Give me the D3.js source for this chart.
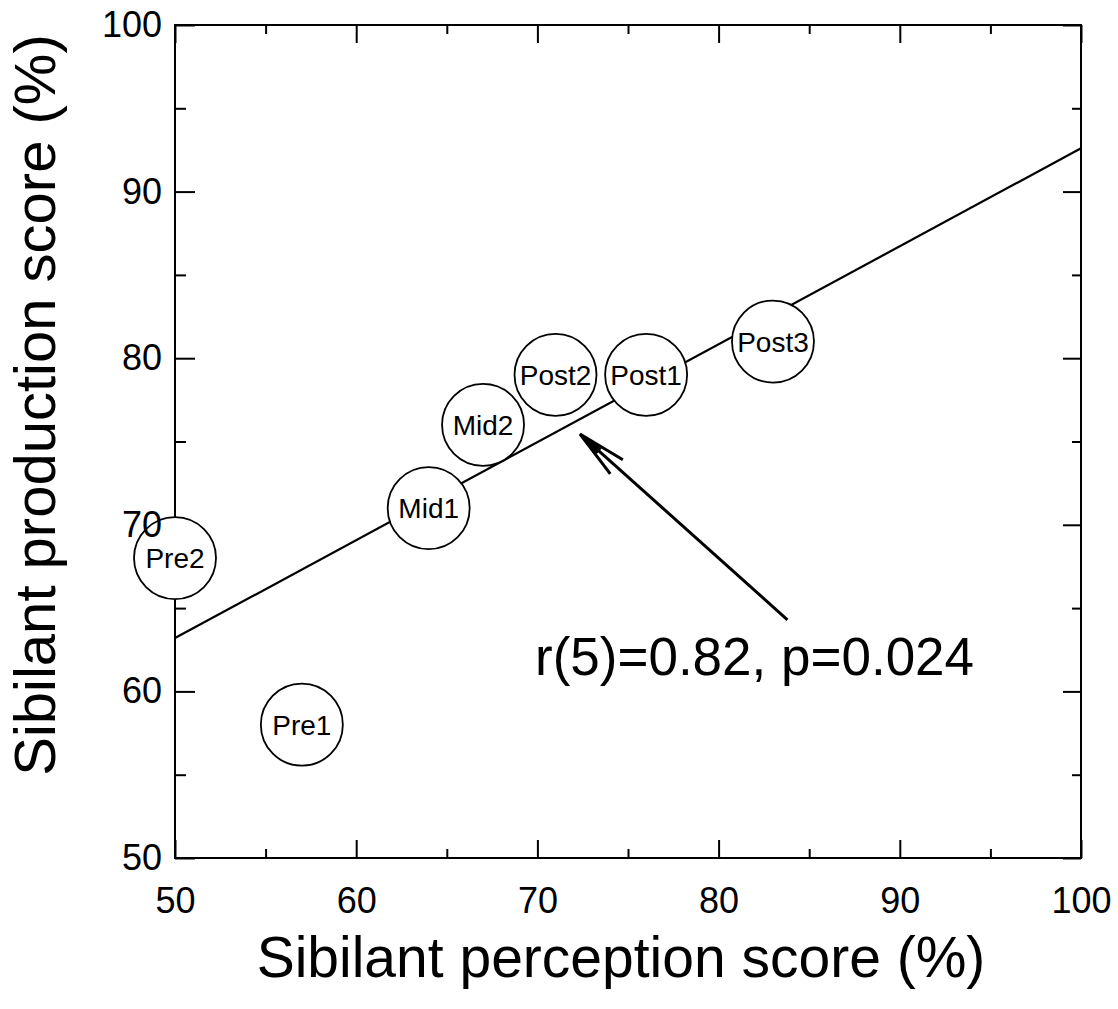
<!DOCTYPE html>
<html>
<head>
  <meta charset="utf-8">
  <script src="https://d3js.org/d3.v7.min.js"></script>
  <style>
    body { margin: 0; background: #fff; }
    svg text { font-family: "Liberation Sans", Arial, sans-serif; fill: #000; }
  </style>
</head>
<body>
<script>
  // data
  var sessions   = ["Pre1", "Pre2", "Mid1", "Mid2", "Post1", "Post2", "Post3"];
  var perception = [57, 50, 64, 67, 76, 71, 83];
  var production = [58, 68, 71, 76, 79, 79, 81];

  // regression line end points
  var fitX = [50, 100];
  var fitY = [63.2, 92.6];

  var majorTicks = [50, 60, 70, 80, 90, 100];
  var minorTicks = [55, 65, 75, 85, 95];

  var statText = "r(5)=0.82, p=0.024";

  var width = 1118, height = 1009;
  var margin = {left: 175, top: 25, right: 37, bottom: 151};
  var w = width - margin.left - margin.right,
      h = height - margin.top - margin.bottom;

  var svg = d3.select("body").append("svg")
      .attr("width", width)
      .attr("height", height);

  var g = svg.append("g")
      .attr("transform", "translate(" + margin.left + "," + margin.top + ")");

  var x = d3.scaleLinear().domain([50, 100]).range([0, w]);
  var y = d3.scaleLinear().domain([50, 100]).range([h, 0]);

  // tick marks on all four sides, pointing inward
  function ticks(axisFn, scale, vals, size, transform) {
    var a = g.append("g")
      .attr("transform", transform || null)
      .call(axisFn(scale).tickValues(vals).tickSize(-size).tickFormat(""));
    a.select(".domain").remove();
    a.selectAll("line").attr("stroke", "#000").attr("stroke-width", 2);
  }
  ticks(d3.axisBottom, x, majorTicks, 18, "translate(0," + h + ")");
  ticks(d3.axisBottom, x, minorTicks, 9, "translate(0," + h + ")");
  ticks(d3.axisTop, x, majorTicks, 18);
  ticks(d3.axisTop, x, minorTicks, 9);
  ticks(d3.axisLeft, y, majorTicks, 20);
  ticks(d3.axisLeft, y, minorTicks, 11);
  ticks(d3.axisRight, y, majorTicks, 18, "translate(" + w + ",0)");
  ticks(d3.axisRight, y, minorTicks, 9, "translate(" + w + ",0)");

  g.append("rect")
    .attr("width", w).attr("height", h)
    .attr("fill", "none").attr("stroke", "#000").attr("stroke-width", 2);

  // fit line
  g.append("line")
    .attr("x1", x(fitX[0])).attr("y1", y(fitY[0]))
    .attr("x2", x(fitX[1])).attr("y2", y(fitY[1]))
    .attr("stroke", "#000").attr("stroke-width", 2.2);

  // bubbles
  var pts = sessions.map(function(s, i) {
    return {name: s, px: perception[i], py: production[i]};
  });
  var node = g.selectAll("g.pt").data(pts).enter().append("g")
    .attr("class", "pt")
    .attr("transform", function(d) { return "translate(" + x(d.px) + "," + y(d.py) + ")"; });
  node.append("circle")
    .attr("r", 41)
    .attr("fill", "#fff").attr("stroke", "#000").attr("stroke-width", 1.8);
  node.append("text")
    .attr("text-anchor", "middle")
    .attr("dy", "0.36em")
    .style("font-size", "28px")
    .text(function(d) { return d.name; });

  // tick labels on top of bubbles
  var xl = g.append("g")
    .attr("transform", "translate(0," + h + ")")
    .call(d3.axisBottom(x).tickValues(majorTicks).tickSize(0).tickPadding(29));
  xl.select(".domain").remove();
  xl.selectAll("text").style("font-size", "36px").attr("fill", "#000");

  var yl = g.append("g")
    .call(d3.axisLeft(y).tickValues(majorTicks).tickSize(0).tickPadding(13));
  yl.select(".domain").remove();
  yl.selectAll("text").style("font-size", "36px").attr("fill", "#000");

  // arrow pointing at the fit line
  var arrowTip = [72.35, 75.45], arrowTail = [83.8, 64.3];
  var tx = x(arrowTip[0]), ty = y(arrowTip[1]),
      sx = x(arrowTail[0]), sy = y(arrowTail[1]);
  var ang = Math.atan2(sy - ty, sx - tx);
  function off(len, da) {
    return [tx + len * Math.cos(ang + da), ty + len * Math.sin(ang + da)];
  }
  g.append("line")
    .attr("x1", sx).attr("y1", sy)
    .attr("x2", off(14, 0)[0]).attr("y2", off(14, 0)[1])
    .attr("stroke", "#000").attr("stroke-width", 3);
  var b1 = off(50, -0.19), b2 = off(50, 0.19);
  g.append("path")
    .attr("d", "M" + b1 + "L" + tx + "," + ty + "L" + b2)
    .attr("fill", "none").attr("stroke", "#000").attr("stroke-width", 3)
    .attr("stroke-linejoin", "miter");
  var f1 = off(26, -0.14), f2 = off(26, 0.14);
  g.append("path")
    .attr("d", "M" + tx + "," + ty + "L" + f1 + "L" + f2 + "Z")
    .attr("fill", "#000");

  g.append("text")
    .attr("x", x(69.87)).attr("y", y(60.98))
    .style("font-size", "53px")
    .text(statText);

  // axis titles
  svg.append("text")
    .attr("x", 621).attr("y", 977)
    .attr("text-anchor", "middle")
    .style("font-size", "57px")
    .text("Sibilant perception score (%)");

  svg.append("text")
    .attr("transform", "translate(55,405) rotate(-90)")
    .attr("text-anchor", "middle")
    .style("font-size", "58px")
    .text("Sibilant production score (%)");
</script>
</body>
</html>
